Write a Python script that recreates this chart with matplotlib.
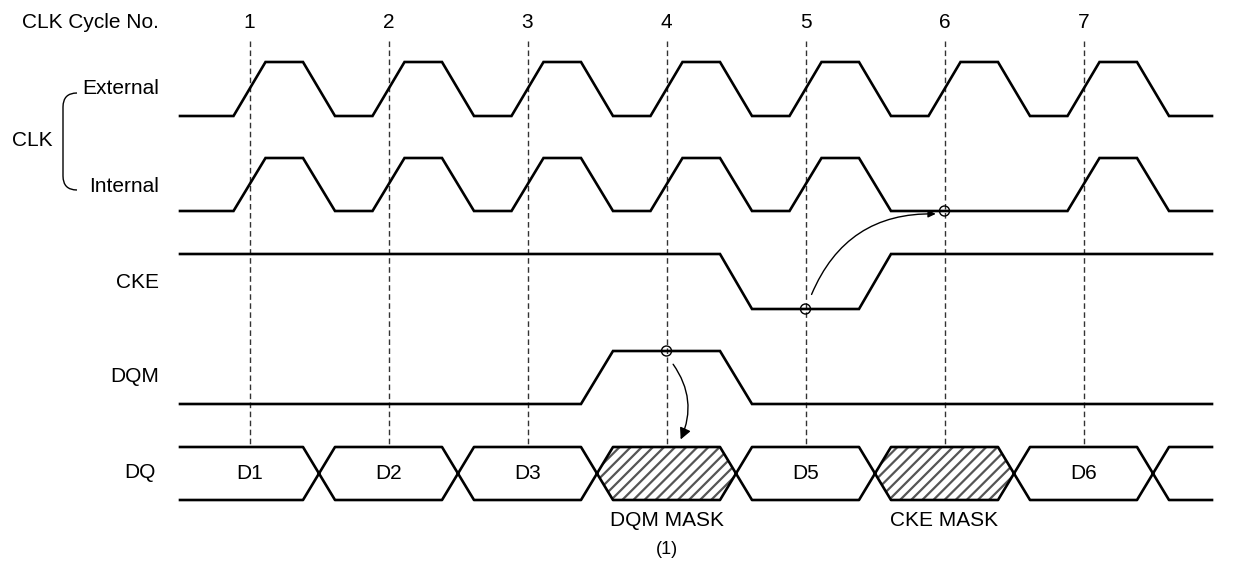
#SDRAM clock / CKE / DQM timing diagram
import matplotlib.pyplot as plt
import matplotlib.patches as mpatches
from matplotlib.path import Path

plt.rcParams['font.family'] = ['Liberation Sans', 'DejaVu Sans']
plt.rcParams['hatch.linewidth'] = 1.6

# clock cycle numbers
cycle_no = ['1', '2', '3', '4', '5', '6', '7']

# levels per half clock slot (1 = high, 0 = low)
ext_clk = [0, 1, 0, 1, 0, 1, 0, 1, 0, 1, 0, 1, 0, 1, 0]
int_clk = [0, 1, 0, 1, 0, 1, 0, 1, 0, 1, 0, 0, 0, 1, 0]
cke     = [1, 1, 1, 1, 1, 1, 1, 1, 0, 0, 1, 1, 1, 1, 1]
dqm     = [0, 0, 0, 0, 0, 0, 1, 1, 0, 0, 0, 0, 0, 0, 0]

# DQ bus, one entry per full clock
dq_data = ['D1', 'D2', 'D3', '', 'D5', '', 'D6', '']
dq_mask = [0, 0, 0, 1, 0, 1, 0, 0]
mask_text = ['', '', '', 'DQM MASK', '', 'CKE MASK', '', '']

# geometry (pixels)
t0, t_end = 180, 1212
half = 69.5
edge = 16
rows = {'ext': (62, 116), 'int': (158, 211), 'cke': (254, 309),
        'dqm': (351, 404), 'dq': (447, 500)}
LW = 1.9
FS = 15


def wave(levels, hi, lo):
    ylev = lambda v: hi if v else lo
    xs = [t0]; ys = [ylev(levels[0])]
    for k in range(1, len(levels)):
        if levels[k] != levels[k - 1]:
            b = t0 + half * k
            xs += [b - edge, b + edge]
            ys += [ylev(levels[k - 1]), ylev(levels[k])]
    xs.append(t_end); ys.append(ylev(levels[-1]))
    return xs, ys


fig = plt.figure(figsize=(12.38, 5.68), dpi=100)
ax = fig.add_axes([0, 0, 1, 1])
ax.set_xlim(0, 1238)
ax.set_ylim(568, 0)
ax.axis('off')

cycle_x = [t0 + half * (2 * i + 1) for i in range(len(cycle_no))]

# dashed cycle markers
for cx, lab in zip(cycle_x, cycle_no):
    ax.plot([cx, cx], [41, rows['dq'][0]], color='#333333', lw=1,
            linestyle=(0, (4, 2.5)), zorder=1)
    ax.text(cx, 22, lab, ha='center', va='center', fontsize=FS)
ax.text(159, 22, 'CLK Cycle No.', ha='right', va='center', fontsize=FS)

# signals
for key, lev in [('ext', ext_clk), ('int', int_clk), ('cke', cke), ('dqm', dqm)]:
    xs, ys = wave(lev, *rows[key])
    ax.plot(xs, ys, color='black', lw=LW, solid_joinstyle='miter', zorder=3)

# DQ bus
top, bot = rows['dq']
mid = (top + bot) / 2
nseg = len(dq_data)
for j in range(nseg):
    a = t0 + 2 * half * j
    b = min(t0 + 2 * half * (j + 1), t_end)
    first, last = j == 0, j == nseg - 1
    ta = a if first else a + edge
    tb = b if last else b - edge
    if dq_mask[j]:
        poly = mpatches.Polygon([(a, mid), (ta, top), (tb, top), (b, mid), (tb, bot), (ta, bot)],
                                closed=True, facecolor='white', edgecolor='#555555', lw=0,
                                hatch='///', zorder=2)
        ax.add_patch(poly)
    for y in (top, bot):
        xs = [ta, tb]; ys = [y, y]
        if not first:
            xs.insert(0, a); ys.insert(0, mid)
        if not last:
            xs.append(b); ys.append(mid)
        ax.plot(xs, ys, color='black', lw=LW, zorder=3)
    cx = (a + b) / 2
    if dq_data[j]:
        ax.text(cx, mid, dq_data[j], ha='center', va='center', fontsize=FS)
    if mask_text[j]:
        ax.text(cx, 521, mask_text[j], ha='center', va='center', fontsize=FS)
ax.text(cycle_x[3], 549, '(1)', ha='center', va='center', fontsize=FS - 2)

# left labels
ax.text(159, sum(rows['ext']) / 2, 'External', ha='right', va='center', fontsize=FS)
ax.text(159, sum(rows['int']) / 2 + 2, 'Internal', ha='right', va='center', fontsize=FS)
ax.text(32, 140, 'CLK', ha='center', va='center', fontsize=FS)
ax.text(159, 282, 'CKE', ha='right', va='center', fontsize=FS)
ax.text(159, 377, 'DQM', ha='right', va='center', fontsize=FS)
ax.text(156, 473, 'DQ', ha='right', va='center', fontsize=FS)

# bracket for CLK
verts = [(77, 93), (63, 93), (63, 107), (63, 176), (63, 190), (77, 190)]
codes = [Path.MOVETO, Path.CURVE3, Path.CURVE3, Path.LINETO, Path.CURVE3, Path.CURVE3]
ax.add_patch(mpatches.PathPatch(Path(verts, codes), facecolor='none', edgecolor='black', lw=1))

# sample points
pts = [(cycle_x[3], rows['dqm'][0]), (cycle_x[4], rows['cke'][1]), (cycle_x[5], rows['int'][1])]
for px, py in pts:
    ax.add_patch(mpatches.Circle((px, py), 5, facecolor='none', edgecolor='black', lw=1, zorder=4))

# arrows
ax.add_patch(mpatches.FancyArrowPatch((cycle_x[3] + 5, 362), (cycle_x[3] + 13, 442),
                                      connectionstyle='arc3,rad=-0.3', arrowstyle='-|>',
                                      mutation_scale=17, color='black', lw=1, zorder=4))
ax.add_patch(mpatches.FancyArrowPatch((cycle_x[4] + 5, 297), (cycle_x[5] - 6, 214),
                                      connectionstyle='arc3,rad=-0.35', arrowstyle='-|>',
                                      mutation_scale=11, color='black', lw=1, zorder=4))

fig.savefig('out.png', dpi=100)
